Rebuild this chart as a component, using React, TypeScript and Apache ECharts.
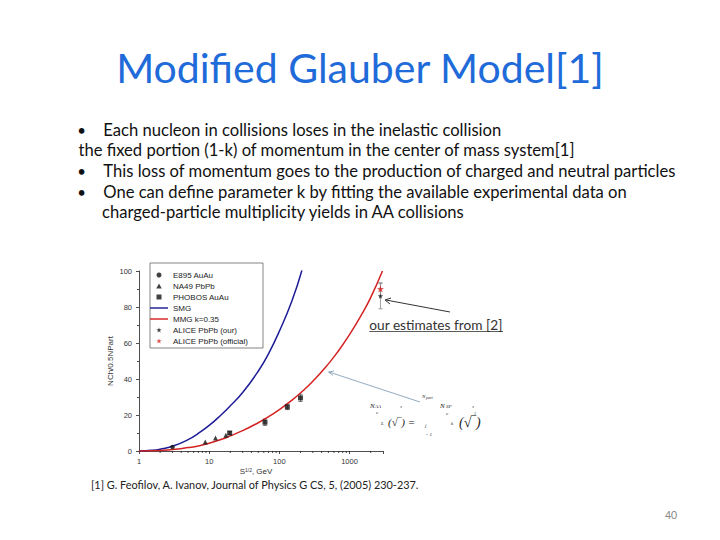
import React, { useEffect, useRef } from "react";
import * as echarts from "echarts";

// ---- data ----
const xMajorLabels = ["1", "10", "100", "1000"];
const xMinorTicks = [2, 3, 4, 5, 6, 7, 8, 9, 20, 30, 40, 50, 60, 70, 80, 90, 200, 300, 400, 500, 600, 700, 800, 900, 2000];
const e895 = [[3.0, 2.2]];
const na49 = [[8.8, 5.0], [12.3, 7.2], [17.3, 8.7]];
const phobos = [[19.6, 10.0], [62.4, 16.0], [130, 24.5], [200, 29.5]];
const phobosErr = [0.8, 1.8, 1.5, 2.0];
const aliceOur = [[2760, 86]];
const aliceOurErr = [7];
const aliceOfficial = [[2760, 90]];
const aliceOfficialErr = [3.5];
const smgCurve = [
  [1, 0], [1.5, 0.35], [2, 1.0], [3, 2.6], [5, 6.3], [7, 9.8], [10, 14.2], [15, 20.3],
  [20, 25.1], [30, 32.5], [50, 44.3], [70, 54], [100, 66.5], [150, 83], [210, 100.4],
];
const mmgCurve = [
  [1, 0], [1.5, 0.1], [2, 0.3], [3, 0.8], [5, 1.9], [7, 2.8], [10, 4.3], [15, 6.5], [20, 8.4],
  [30, 11.3], [50, 15.7], [70, 19.0], [100, 23.0], [150, 28.1], [200, 32.2], [300, 38.7], [500, 48.4],
  [700, 55.8], [1000, 64.6], [1500, 76], [2000, 85.2], [2950, 100],
];
const legendNames = ["E895 AuAu", "NA49 PbPb", "PHOBOS AuAu", "SMG", "MMG k=0.35", "ALICE PbPb (our)", "ALICE PbPb (official)"];
const titleText = "Modified Glauber Model[1]";
const bulletLines = [
  { bullet: true, text: "Each nucleon in collisions loses in the inelastic collision" },
  { bullet: false, text: "the fixed portion (1-k) of momentum in the center of mass system[1]" },
  { bullet: true, text: "This loss of momentum goes to the production of charged and neutral particles" },
  { bullet: true, text: "One can define parameter k by fitting the available experimental data on" },
  { bullet: false, text: "charged-particle multiplicity yields in AA collisions", indent: true },
];
const footnote = "[1] G. Feofilov, A. Ivanov, Journal of Physics G CS, 5, (2005) 230-237.";
const annotation = "our estimates from [2]";
const pageNumber = "40";

const FONT = "Lato, 'Open Sans', sans-serif";
const PLOT_FONT = "'Liberation Sans', Arial, sans-serif";
const STAR = "path://M0,-10 L2.35,-3.24 9.51,-3.09 3.8,1.24 5.88,8.09 0,4 -5.88,8.09 -3.8,1.24 -9.51,-3.09 -2.35,-3.24 Z";
const LINE_ICON = "path://M0,0 H20 V1.6 H0 Z";
const SQUARE_ICON = "path://M0,0 H10 V10 H0 Z";
const TRIANGLE_ICON = "path://M5,0 L10,9 L0,9 Z";

function errorBarSeries(points: number[][], errs: number[], color: string) {
  return {
    type: "custom",
    silent: true,
    z: 1,
    data: points.map((p, i) => [p[0], p[1], errs[i]]),
    renderItem: (_params: any, api: any) => {
      const x = api.value(0);
      const y = api.value(1);
      const e = api.value(2);
      const top = api.coord([x, y + e]);
      const bot = api.coord([x, y - e]);
      const cap = 2;
      const st = { stroke: color, lineWidth: 0.8 };
      return {
        type: "group",
        children: [
          { type: "line", shape: { x1: top[0], y1: top[1], x2: bot[0], y2: bot[1] }, style: st },
          { type: "line", shape: { x1: top[0] - cap, y1: top[1], x2: top[0] + cap, y2: top[1] }, style: st },
          { type: "line", shape: { x1: bot[0] - cap, y1: bot[1], x2: bot[0] + cap, y2: bot[1] }, style: st },
        ],
      };
    },
  };
}

export default function App() {
  const ref = useRef<HTMLDivElement>(null);
  useEffect(() => {
    if (!ref.current) return;
    const chart = echarts.init(ref.current, undefined, { renderer: "svg" });

    const graphics: any[] = [];
    graphics.push({
      type: "text",
      x: 360,
      y: 67,
      style: { text: titleText, font: `41px ${FONT}`, fill: "#1f6bd9", textAlign: "center", textVerticalAlign: "middle" },
    });
    bulletLines.forEach((l, i) => {
      const y = 129.5 + i * 20.7;
      if (l.bullet) {
        graphics.push({
          type: "text", x: 81.7, y,
          style: { text: "•", font: `15px ${FONT}`, fill: "#111", textAlign: "center", textVerticalAlign: "middle" },
        });
      }
      const x = l.bullet ? 103.3 : (l as any).indent ? 102 : 78.5;
      graphics.push({
        type: "text", x, y,
        style: { text: l.text, font: `16.6px ${FONT}`, fill: "#111", textAlign: "left", textVerticalAlign: "middle" },
      });
    });
    // annotation with underline and arrow
    graphics.push({
      type: "text", x: 369.3, y: 324,
      style: { text: annotation, font: `13.7px ${FONT}`, fill: "#333", textAlign: "left", textVerticalAlign: "middle" },
    });
    graphics.push({ type: "line", shape: { x1: 369.3, y1: 331.5, x2: 503, y2: 331.5 }, style: { stroke: "#333", lineWidth: 0.8 } });
    graphics.push({ type: "line", shape: { x1: 450, y1: 312, x2: 386, y2: 300 }, style: { stroke: "#333", lineWidth: 1 } });
    graphics.push({ type: "polyline", shape: { points: [[391, 298], [385, 300], [390, 304]] }, style: { stroke: "#333", lineWidth: 1, fill: "none" } });
    // second arrow (steel blue)
    graphics.push({ type: "line", shape: { x1: 420, y1: 402, x2: 329, y2: 372 }, style: { stroke: "#7896ae", lineWidth: 0.8 } });
    graphics.push({ type: "polyline", shape: { points: [[334, 371], [328.5, 372], [333, 375.5]] }, style: { stroke: "#7896ae", lineWidth: 0.8, fill: "none" } });
    // equation fragment
    const eq = (text: string, x: number, y: number, size: number) =>
      graphics.push({
        type: "text", x, y,
        style: { text, font: `italic ${size}px 'Liberation Serif', serif`, fill: "#222", textAlign: "left", textVerticalAlign: "middle" },
      });
    eq("N", 370, 406, 7);
    eq("AA", 375, 406, 5);
    eq("c", 376, 412, 5);
    eq("s", 400, 406, 5);
    eq("L", 381, 423, 5);
    eq("(√‾) =", 388, 422, 11);
    eq("N", 422, 396, 5);
    eq("part", 426, 397, 4);
    eq("N", 440, 406, 7);
    eq("SP", 446, 406, 5);
    eq("c", 446, 413, 5);
    eq("j", 425, 425, 5);
    eq("= 1", 425, 434, 5);
    eq("k", 451, 423, 5);
    eq("(√‾)", 459, 422, 14);
    eq("s", 472, 406, 5);
    eq("1", 474, 413, 4);
    // footnote and page number
    graphics.push({
      type: "text", x: 91, y: 484,
      style: { text: footnote, font: `10.9px ${FONT}`, fill: "#222", textAlign: "left", textVerticalAlign: "middle" },
    });
    graphics.push({
      type: "text", x: 671, y: 514.5,
      style: { text: pageNumber, font: `10.5px ${FONT}`, fill: "#888", textAlign: "center", textVerticalAlign: "middle" },
    });

    const iconFor: Record<string, string> = {
      "E895 AuAu": "circle",
      "NA49 PbPb": TRIANGLE_ICON,
      "PHOBOS AuAu": SQUARE_ICON,
      "SMG": LINE_ICON,
      "MMG k=0.35": LINE_ICON,
      "ALICE PbPb (our)": STAR,
      "ALICE PbPb (official)": STAR,
    };

    chart.setOption({
      animation: false,
      backgroundColor: "#ffffff",
      grid: { left: 139, right: 337, top: 271, bottom: 89, containLabel: false },
      legend: {
        orient: "vertical",
        left: 150,
        top: 263,
        padding: [8, 15, 3, 0],
        itemGap: 3,
        itemWidth: 18,
        itemHeight: 5,
        symbolKeepAspect: true,
        borderColor: "#666",
        borderWidth: 0.8,
        backgroundColor: "#fff",
        selectedMode: false,
        textStyle: { fontSize: 8, lineHeight: 8, color: "#222", fontFamily: PLOT_FONT },
        data: legendNames.map((n) => ({ name: n, icon: iconFor[n] })),
      },
      xAxis: {
        type: "log",
        logBase: 10,
        min: 1,
        max: 3000,
        name: "{b|S}{s|1/2}{b|, GeV}",
        nameLocation: "middle",
        nameGap: 16,
        nameTextStyle: {
          padding: [0, 10, 0, 0],
          rich: {
            b: { fontSize: 8, color: "#333", fontFamily: PLOT_FONT },
            s: { fontSize: 5, color: "#333", fontFamily: PLOT_FONT, verticalAlign: "top", padding: [0, 0, 4, 0] },
          },
        },
        axisLine: { show: true, lineStyle: { color: "#222", width: 0.8 } },
        axisTick: { show: true, length: 3, lineStyle: { color: "#222", width: 0.8 } },
        axisLabel: {
          fontSize: 7.5,
          color: "#333",
          fontFamily: PLOT_FONT,
          margin: 6,
          formatter: (v: number) => {
            const s = String(Math.round(v));
            return xMajorLabels.includes(s) && Math.abs(v - Math.round(v)) < 1e-6 ? s : "";
          },
        },
        splitLine: { show: false },
      },
      yAxis: {
        type: "value",
        min: 0,
        max: 100,
        interval: 20,
        name: "NCh/0.5NPart",
        nameLocation: "middle",
        nameGap: 25,
        nameTextStyle: { fontSize: 8, color: "#333", fontFamily: PLOT_FONT },
        axisLine: { show: true, lineStyle: { color: "#222", width: 0.8 } },
        axisTick: { show: true, length: 3, lineStyle: { color: "#222", width: 0.8 } },
        minorTick: { show: true, splitNumber: 2, length: 2, lineStyle: { color: "#222", width: 0.8 } },
        axisLabel: { fontSize: 7.5, color: "#333", fontFamily: PLOT_FONT, margin: 7 },
        splitLine: { show: false },
      },
      graphic: graphics,
      series: [
        {
          name: "SMG",
          type: "line",
          data: smgCurve,
          smooth: 0.5,
          symbol: "none",
          lineStyle: { color: "#1c1c96", width: 1.5 },
          itemStyle: { color: "#1c1c96" },
          clip: true,
          z: 2,
        },
        {
          name: "MMG k=0.35",
          type: "line",
          data: mmgCurve,
          smooth: 0.5,
          symbol: "none",
          lineStyle: { color: "#d42222", width: 1.5 },
          itemStyle: { color: "#d42222" },
          clip: true,
          z: 2,
        },
        errorBarSeries(phobos, phobosErr, "#555"),
        errorBarSeries(aliceOur, aliceOurErr, "#888"),
        errorBarSeries(aliceOfficial, aliceOfficialErr, "#888"),
        { name: "E895 AuAu", type: "scatter", data: e895, symbol: "circle", symbolSize: 4.5, itemStyle: { color: "#111" }, z: 3 },
        { name: "NA49 PbPb", type: "scatter", data: na49, symbol: "triangle", symbolSize: 5, itemStyle: { color: "#111" }, z: 3 },
        { name: "PHOBOS AuAu", type: "scatter", data: phobos, symbol: "rect", symbolSize: 5, itemStyle: { color: "#111" }, z: 3 },
        { name: "ALICE PbPb (our)", type: "scatter", data: aliceOur, symbol: STAR, symbolSize: 5, itemStyle: { color: "#111" }, z: 4 },
        { name: "ALICE PbPb (official)", type: "scatter", data: aliceOfficial, symbol: STAR, symbolSize: 7, itemStyle: { color: "#d42222" }, z: 4 },
        {
          type: "custom",
          silent: true,
          z: 1,
          data: xMinorTicks.map((v) => [v, 0]),
          renderItem: (_p: any, api: any) => {
            const pt = api.coord([api.value(0), 0]);
            return {
              type: "line",
              shape: { x1: pt[0], y1: pt[1], x2: pt[0], y2: pt[1] + 2 },
              style: { stroke: "#222", lineWidth: 0.8 },
            };
          },
        },
      ],
    });
    return () => chart.dispose();
  }, []);
  return <div ref={ref} style={{ position: "fixed", left: 0, top: 0, width: 720, height: 540, background: "#fff" }} />;
}
